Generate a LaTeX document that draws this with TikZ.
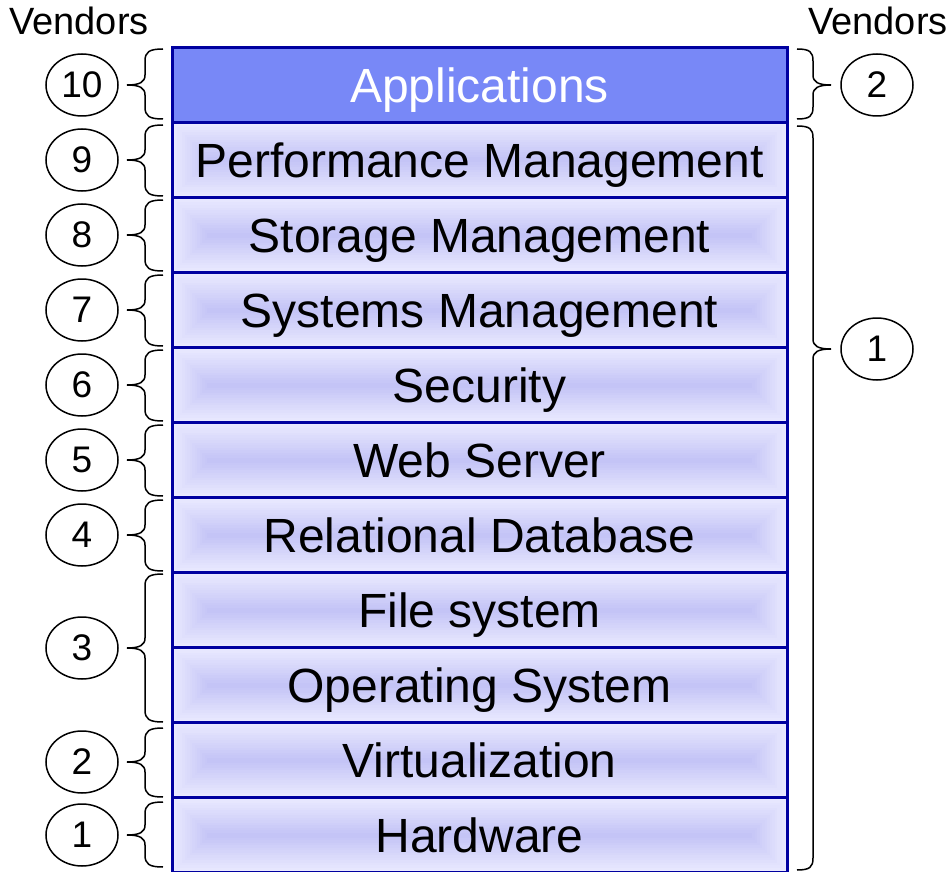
\documentclass[tikz,border=0pt]{standalone}
\usepackage{fontspec}
\setmainfont{Liberation Sans}
\usetikzlibrary{shapes.geometric}
\definecolor{edgeblue}{RGB}{0,0,160}
\definecolor{laylight}{RGB}{234,234,255}
\definecolor{laydark}{RGB}{196,196,246}
\definecolor{appblue}{RGB}{120,136,247}
\newcommand\LeftBr[3]{%
  \draw[bracepath] (163,#1) .. controls (149,#1) and (145,#1+3) .. (145,#1+12)
    -- (145,#3-10) .. controls (145,#3-3) and (140,#3) .. (127,#3)
    .. controls (140,#3) and (145,#3+3) .. (145,#3+10)
    -- (145,#2-12) .. controls (145,#2-3) and (149,#2) .. (163,#2);}
\newcommand\RightBr[3]{%
  \draw[bracepath] (797,#1) .. controls (810,#1) and (813,#1+3) .. (813,#1+12)
    -- (813,#3-10) .. controls (813,#3-3) and (818,#3) .. (831,#3)
    .. controls (818,#3) and (813,#3+3) .. (813,#3+10)
    -- (813,#2-12) .. controls (813,#2-3) and (810,#2) .. (797,#2);}
\begin{document}
\begin{tikzpicture}[x=1pt,y=-1pt,
  layer/.style={draw=edgeblue, line width=3pt, minimum width=615pt, minimum height=75pt,
    inner sep=0pt, font=\fontsize{48}{50}\selectfont, text height=36.5pt, text depth=2.3pt,
    fill=laylight,
    path picture={\foreach \i in {1,...,14}{%
        \pgfmathsetmacro\dd{\i*37.5/15}%
        \pgfmathsetmacro\pp{\i*100/14}%
        \fill[laydark!\pp!laylight]
          ([xshift=\dd pt, yshift=\dd pt]path picture bounding box.south west) rectangle
          ([xshift=-\dd pt, yshift=-\dd pt]path picture bounding box.north east);}}},
  apps/.style={draw=edgeblue, line width=3pt, minimum width=615pt, minimum height=75pt,
    inner sep=0pt, font=\fontsize{48}{50}\selectfont, text height=36.5pt, text depth=2.3pt,
    fill=appblue, text=white},
  num/.style={draw, ellipse, line width=1.5pt, minimum width=72pt, minimum height=62pt,
    inner sep=0pt, font=\fontsize{37}{40}\selectfont},
  lab/.style={inner sep=0pt, font=\fontsize{38}{40}\selectfont},
  bracepath/.style={draw, line width=1.5pt}
]
\useasboundingbox (0,0) rectangle (951,872);
% layers
\node[layer] (perf) at (479.5,160) {Performance Management};
\node[layer] (stor) at (479.5,235) {Storage Management};
\node[layer] (sys)  at (479.5,310) {Systems Management};
\node[layer] (sec)  at (479.5,385) {Security};
\node[layer] (web)  at (479.5,460) {Web Server};
\node[layer] (rdb)  at (479.5,535) {Relational Database};
\node[layer] (fs)   at (479.5,610) {File system};
\node[layer] (os)   at (479.5,685) {Operating System};
\node[layer] (virt) at (479.5,760) {Virtualization};
\node[layer] (hw)   at (479.5,835) {Hardware};
\node[apps]  (app)  at (479.5,85)  {Applications};
% labels
\node[lab] (vl) at (79,21) {Vendors};
\node[lab] (vr) at (878,21) {Vendors};
% left numbers
\node[num] (n10) at (82,85)  {10};
\node[num] (n9)  at (82,160) {9};
\node[num] (n8)  at (82,235) {8};
\node[num] (n7)  at (82,310) {7};
\node[num] (n6)  at (82,385) {6};
\node[num] (n5)  at (82,460) {5};
\node[num] (n4)  at (82,535) {4};
\node[num] (n3)  at (82,648) {3};
\node[num] (n2)  at (82,762) {2};
\node[num] (n1)  at (82,835) {1};
% right numbers
\node[num] (r2) at (877,85)  {2};
\node[num] (r1) at (877,349) {1};
% left braces
\LeftBr{49}{119}{85}
\LeftBr{125}{196}{160}
\LeftBr{200}{271}{235}
\LeftBr{275}{346}{310}
\LeftBr{350}{421}{385}
\LeftBr{425}{496}{460}
\LeftBr{500}{571}{535}
\LeftBr{574}{722}{648}
\LeftBr{728}{797}{762}
\LeftBr{802}{867}{835}
% right braces
\RightBr{49}{119}{85}
\RightBr{126}{870}{349}
\end{tikzpicture}
\end{document}
